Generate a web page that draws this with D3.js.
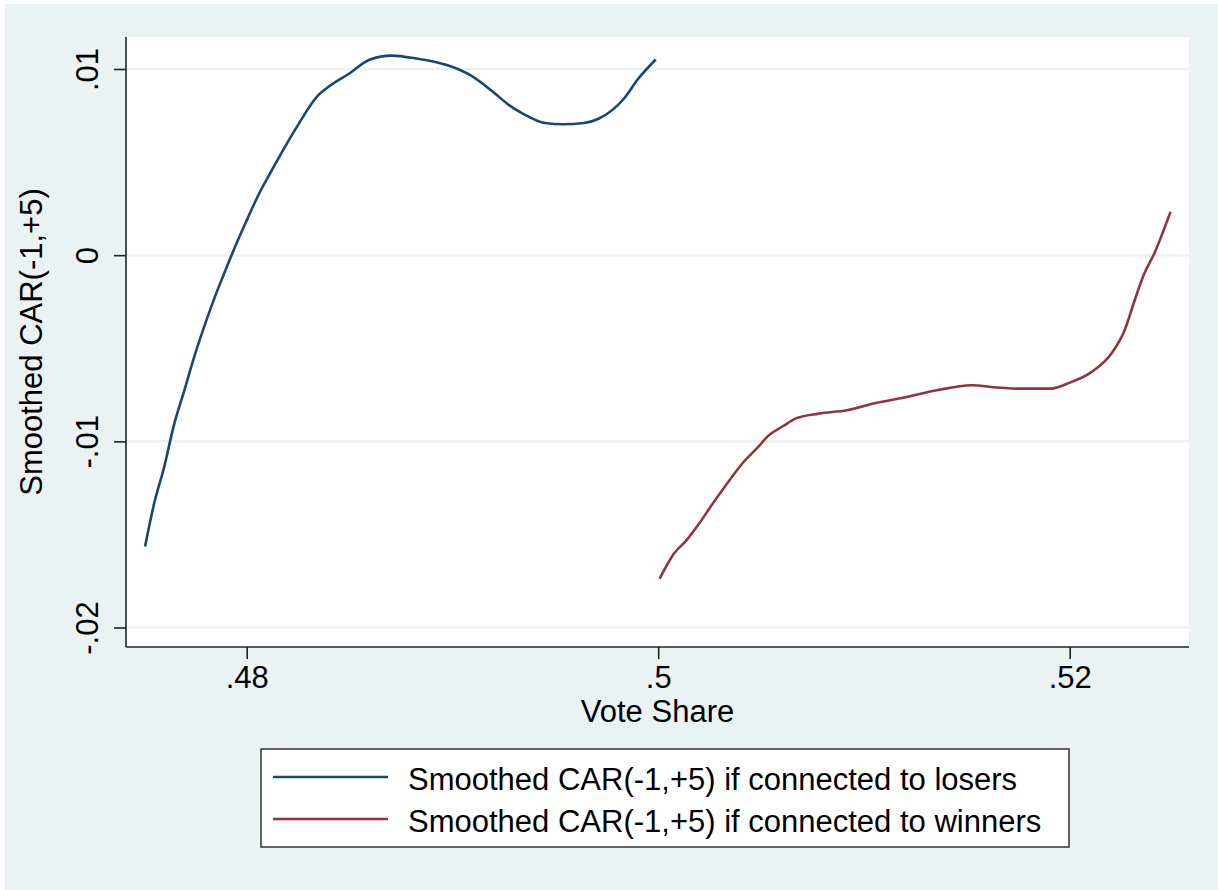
<!DOCTYPE html>
<html>
<head>
<meta charset="utf-8">
<script src="https://cdn.jsdelivr.net/npm/d3@7"></script>
<style>
  body { margin: 0; background: #fff; }
  text { font-family: "Liberation Sans", Arial, sans-serif; fill: #000; }
</style>
</head>
<body>
<div class="graphContainer"></div>
<script>
// smoothed CAR for firms connected to losing candidates (vote share < .5)
var loserShare = [0.47506, 0.47549, 0.47601, 0.47645, 0.47697, 0.47749, 0.47801, 0.47844, 0.47888, 0.47931,
  0.47992, 0.48060, 0.48131, 0.48200, 0.48252, 0.48347, 0.48390, 0.48495, 0.48599, 0.48703,
  0.48825, 0.48998, 0.49085, 0.49207, 0.49275, 0.49346, 0.49450, 0.49537, 0.49639, 0.49710,
  0.49832, 0.49902, 0.49988];
var loserCar = [-0.01565, -0.01339, -0.01129, -0.00918, -0.00726, -0.00532, -0.00360, -0.00228, -0.00105, 0.00012,
  0.00167, 0.00330, 0.00474, 0.00609, 0.00704, 0.00858, 0.00898, 0.00973, 0.01051, 0.01072,
  0.01056, 0.01012, 0.00968, 0.00868, 0.00806, 0.00758, 0.00710, 0.00703, 0.00710, 0.00733,
  0.00839, 0.00946, 0.01051];

// smoothed CAR for firms connected to winners (vote share > .5)
var winnerShare = [0.50007, 0.50076, 0.50137, 0.50198, 0.50259, 0.50328, 0.50415, 0.50485, 0.50537, 0.50606,
  0.50667, 0.50780, 0.50918, 0.51057, 0.51196, 0.51352, 0.51526, 0.51647, 0.51752, 0.51908,
  0.51995, 0.52107, 0.52203, 0.52264, 0.52316, 0.52359, 0.52411, 0.52490];
var winnerCar = [-0.01738, -0.01604, -0.01532, -0.01443, -0.01344, -0.01237, -0.01111, -0.01031, -0.00968, -0.00919,
  -0.00878, -0.00851, -0.00833, -0.00794, -0.00765, -0.00726, -0.00699, -0.00711, -0.00717, -0.00717,
  -0.00687, -0.00627, -0.00528, -0.00412, -0.00242, -0.00108, 0.00009, 0.00233];

var xTicks = [0.48, 0.5, 0.52];
var xTickLabels = [".48", ".5", ".52"];
var yTicks = [-0.02, -0.01, 0, 0.01];
var yTickLabels = ["-.02", "-.01", "0", ".01"];
var seriesNames = ["Smoothed CAR(-1,+5) if connected to losers", "Smoothed CAR(-1,+5) if connected to winners"];

var width = 1218;
var height = 890;
var plot = { left: 126, right: 1189, top: 37, bottom: 647 };
var colors = ["#1a476f", "#90353b"];
var bg = "#eaf2f3";
var fontSize = 31;

var svg = d3
  .select(".graphContainer")
  .append("svg")
  .attr("width", width)
  .attr("height", height);

svg.append("rect")
  .attr("x", 5).attr("y", 4)
  .attr("width", width - 5).attr("height", height - 4)
  .style("fill", bg);

svg.append("rect")
  .attr("x", plot.left).attr("y", plot.top)
  .attr("width", plot.right - plot.left).attr("height", plot.bottom - plot.top)
  .style("fill", "#fff");

var xScale = d3.scaleLinear().domain([0.48, 0.52]).range([246.7, 1069.7]);
var yScale = d3.scaleLinear().domain([-0.02, 0.01]).range([627.5, 69]);

// gridlines
svg.selectAll(".grid")
  .data(yTicks)
  .enter()
  .append("line")
  .attr("class", "grid")
  .attr("x1", plot.left).attr("x2", plot.right)
  .attr("y1", (d) => yScale(d)).attr("y2", (d) => yScale(d))
  .style("stroke", bg)
  .style("stroke-width", 2.5);

// x axis
var xAxis = d3.axisBottom(xScale)
  .tickValues(xTicks)
  .tickFormat((d, i) => xTickLabels[i])
  .tickSize(12)
  .tickPadding(7)
  .tickSizeOuter(0);

var xAxisGroup = svg.append("g")
  .attr("transform", "translate(0," + plot.bottom + ")")
  .call(xAxis);
xAxisGroup.select(".domain").attr("d", "M" + plot.left + ",0H" + plot.right);

// y axis
var yAxis = d3.axisLeft(yScale)
  .tickValues(yTicks)
  .tickFormat((d, i) => yTickLabels[i])
  .tickSize(12)
  .tickSizeOuter(0);

var yAxisGroup = svg.append("g")
  .attr("transform", "translate(" + plot.left + ",0)")
  .call(yAxis);
yAxisGroup.select(".domain").attr("d", "M0," + plot.top + "V" + plot.bottom);
yAxisGroup.selectAll(".tick text")
  .attr("x", 0).attr("dy", null)
  .attr("transform", "translate(-28,0) rotate(-90)")
  .style("text-anchor", "middle");

svg.selectAll(".domain, .tick line")
  .style("stroke", "#222")
  .style("stroke-width", 1.6);
svg.selectAll(".tick text")
  .style("font-size", fontSize + "px")
  .style("font-family", "'Liberation Sans', Arial, sans-serif")
  .attr("fill", "#000");

// axis titles
svg.append("text")
  .attr("x", (plot.left + plot.right) / 2)
  .attr("y", 722)
  .style("text-anchor", "middle")
  .style("font-size", fontSize + "px")
  .text("Vote Share");

svg.append("text")
  .attr("transform", "translate(42," + (plot.top + plot.bottom) / 2 + ") rotate(-90)")
  .style("text-anchor", "middle")
  .style("font-size", fontSize + "px")
  .text("Smoothed CAR(-1,+5)");

// curves
var line = d3.line()
  .x((d) => xScale(d[0]))
  .y((d) => yScale(d[1]))
  .curve(d3.curveMonotoneX);

var series = [
  d3.zip(loserShare, loserCar),
  d3.zip(winnerShare, winnerCar)
];

svg.selectAll(".curve")
  .data(series)
  .enter()
  .append("path")
  .attr("class", "curve")
  .attr("d", line)
  .style("fill", "none")
  .style("stroke", (d, i) => colors[i])
  .style("stroke-width", 2.6);

// legend
var legend = svg.append("g").attr("id", "legend");
legend.append("rect")
  .attr("x", 261).attr("y", 749)
  .attr("width", 808).attr("height", 98)
  .style("fill", "#fff")
  .style("stroke", "#333")
  .style("stroke-width", 1.5);

var rows = legend.selectAll(".row")
  .data(seriesNames)
  .enter()
  .append("g")
  .attr("class", "row")
  .attr("transform", (d, i) => "translate(0," + (777 + i * 42) + ")");

rows.append("line")
  .attr("x1", 273).attr("x2", 388)
  .attr("y1", 0).attr("y2", 0)
  .style("stroke", (d, i) => colors[i])
  .style("stroke-width", 2.6);

rows.append("text")
  .attr("x", 408)
  .attr("y", 13)
  .style("font-size", fontSize + "px")
  .text((d) => d);
</script>
</body>
</html>
